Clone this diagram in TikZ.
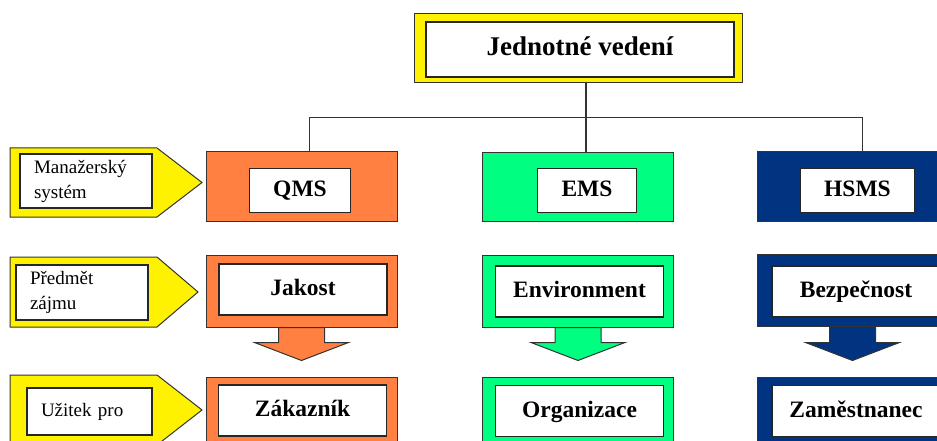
\documentclass[tikz,border=0pt]{standalone}
\usepackage{fontspec}
\setmainfont{Liberation Serif}
\definecolor{qmsorange}{RGB}{255,128,64}
\definecolor{emsgreen}{RGB}{0,255,128}
\definecolor{hsmsblue}{RGB}{0,51,128}
\tikzset{
  frame/.style={draw=black!80, line width=1pt, inner sep=0pt},
  bigframe/.style={frame, minimum width=191pt, minimum height=69pt},
  lowframe/.style={frame, minimum width=191pt, minimum height=72pt},
  whitebox/.style={fill=white, draw=black!85, line width=1.3pt,
    text height=16pt, text depth=4pt,
    font=\bfseries\fontsize{23.5}{28}\selectfont},
  namebox/.style={whitebox, inner xsep=24pt, minimum height=44pt},
  goalbox/.style={whitebox, minimum width=168pt, minimum height=51pt},
  labelbox/.style={fill=white, draw=black!85, line width=1.3pt, align=left,
    inner xsep=14pt, font=\fontsize{19}{25}\selectfont},
  pointer/.style={fill=yellow, draw=black!80, line width=1pt},
  wire/.style={line width=1.2pt, black!80},
}
\begin{document}
\begin{tikzpicture}[x=1pt,y=-1pt]
\useasboundingbox (0,0) rectangle (937,441);
\clip (0,0) rectangle (937,441);
				%Vedení
				\node[frame, fill=yellow, minimum width=328pt, minimum height=69pt] (top) at (578,48.5) {};
				\node[whitebox, minimum width=308pt, minimum height=55pt, text height=18pt, text depth=5pt, font=\bfseries\fontsize{27}{32}\selectfont] (topin) at (580,49.5) {Jednotné vedení};
				%Systémy
				\node[bigframe, fill=qmsorange] (qms) at (301.5,186.5) {};
				\node[namebox] (qmsin) at (300,190.5) {QMS};
				\node[bigframe, fill=emsgreen] (ems) at (578,187) {};
				\node[namebox] (emsin) at (587,190.5) {EMS};
				\node[bigframe, fill=hsmsblue] (hsms) at (852.5,186.5) {};
				\node[namebox] (hsmsin) at (857.5,190.5) {HSMS};
				%Spojnice
				\draw[wire] ([xshift=8pt]top.south) -- ++(0,34) coordinate (bus);
				\draw[wire] ([xshift=8pt]qms.north) |- (bus) -| ([xshift=10pt]hsms.north);
				\draw[wire] (bus) -- (bus |- ems.north);
				%Předmět zájmu
				\node[lowframe, fill=qmsorange] (jakost) at (301.5,291) {};
				\node[goalbox] (jakostin) at (303,289.5) {Jakost};
				\node[lowframe, fill=emsgreen] (env) at (578,291) {};
				\node[goalbox] (envin) at (579.5,291.5) {Environment};
				\node[lowframe, fill=hsmsblue] (bez) at (852.5,290) {};
				\node[goalbox] (bezin) at (856,291.5) {Bezpečnost};
				%Šipky dolů
				\filldraw[qmsorange, draw=black!80, line width=1pt] (jakost.south) ++(-23,0) -- ++(0,15) -- ++(-24,0) -- ++(47,18) -- ++(47,-18) -- ++(-24,0) -- ++(0,-15) -- cycle;
				\filldraw[emsgreen, draw=black!80, line width=1pt] (env.south) ++(-23,0) -- ++(0,15) -- ++(-24,0) -- ++(47,18) -- ++(47,-18) -- ++(-24,0) -- ++(0,-15) -- cycle;
				\filldraw[hsmsblue, draw=black!80, line width=1pt] (bez.south) ++(-23,0) -- ++(0,16) -- ++(-24,0) -- ++(47,18) -- ++(47,-18) -- ++(-24,0) -- ++(0,-16) -- cycle;
				%Užitek
				\node[lowframe, fill=qmsorange] (zak) at (301.5,413) {};
				\node[goalbox] (zakin) at (302.5,410.5) {Zákazník};
				\node[lowframe, fill=emsgreen] (org) at (578,413) {};
				\node[goalbox] (orgin) at (579.5,411) {Organizace};
				\node[lowframe, fill=hsmsblue] (zam) at (852.5,413) {};
				\node[goalbox] (zamin) at (856,411) {Zaměstnanec};
				%Popisky vlevo
				\draw[pointer] (10,148) -- (157,148) -- (202,182.5) -- (157,217) -- (10,217) -- cycle;
				\node[labelbox, text width=104pt, minimum height=54pt] (lab1) at (86,181) {Manažerský\\systém};
				\draw[pointer] (10,257) -- (157,257) -- (198,292) -- (157,327) -- (10,327) -- cycle;
				\node[labelbox, text width=104pt, minimum height=55pt] (lab2) at (82,292.5) {Předmět\\zájmu};
				\draw[pointer] (10,375) -- (157,375) -- (202,410) -- (157,445) -- (10,445) -- cycle;
				\node[labelbox, text width=97pt, minimum height=47pt] (lab3) at (89.5,411.5) {Užitek pro};
\end{tikzpicture}
\end{document}
